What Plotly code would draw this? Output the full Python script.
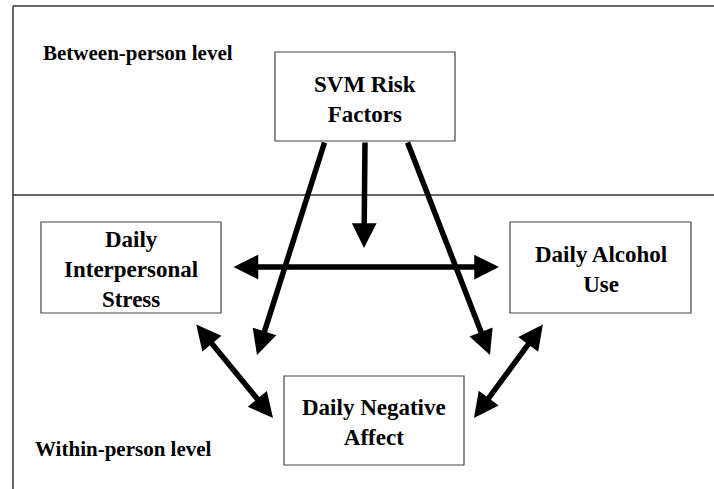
"""
SVM risk factors / daily process model diagram (plotly)
"""
import plotly.graph_objects as go

W, H = 714, 489
FONT = "Liberation Serif, Times New Roman, serif"

# ── diagram content ─────────────────────────────────────────────
LEVEL_LABELS = ["Between-person level", "Within-person level"]
LEVEL_X = [41, 33]
LEVEL_Y = [53, 449]

NODE_LABELS = [
    "SVM Risk<br>Factors",
    "Daily<br>Interpersonal<br>Stress",
    "Daily Alcohol<br>Use",
    "Daily Negative<br>Affect",
]
# box edges: x0, x1, y0, y1
NODE_X0 = [275, 41, 510, 284]
NODE_X1 = [455, 221, 691, 464]
NODE_Y0 = [52, 222, 222, 376]
NODE_Y1 = [141, 313, 313, 465]
NODE_TEXT_Y = [99, 269, 269, 422]

# arrows: tail -> head, double = arrowhead on both ends
ARROW_TAIL_X = [325, 365, 407, 232, 195, 544]
ARROW_TAIL_Y = [141, 141, 141, 267, 323, 323]
ARROW_HEAD_X = [257, 364, 490, 499, 273, 474]
ARROW_HEAD_Y = [355, 248, 355, 267, 418, 418]
ARROW_DOUBLE = [False, False, False, True, True, True]

# frame lines: top, left, divider
FRAME_X0 = [13, 13, 13]
FRAME_X1 = [714, 13, 714]
FRAME_Y0 = [6, 6, 195]
FRAME_Y1 = [6, 489, 195]


fig = go.Figure()

for x0, x1, y0, y1 in zip(FRAME_X0, FRAME_X1, FRAME_Y0, FRAME_Y1):
    fig.add_shape(type="line", x0=x0, x1=x1, y0=y0, y1=y1,
                  xref="x", yref="y",
                  line=dict(color="#333333", width=1.5))

for lab, x0, x1, y0, y1, ty in zip(NODE_LABELS, NODE_X0, NODE_X1,
                                   NODE_Y0, NODE_Y1, NODE_TEXT_Y):
    fig.add_shape(type="rect", x0=x0, x1=x1, y0=y0, y1=y1,
                  xref="x", yref="y", fillcolor="white",
                  line=dict(color="#444444", width=1.2))
    fig.add_annotation(x=(x0 + x1) / 2, y=ty, text=lab, showarrow=False,
                       xanchor="center", yanchor="middle", align="center",
                       font=dict(family=FONT, size=23, color="#000000",
                                 weight="bold"))

for lab, x, y in zip(LEVEL_LABELS, LEVEL_X, LEVEL_Y):
    fig.add_annotation(x=x, y=y, text=lab, showarrow=False,
                       xanchor="left", yanchor="middle",
                       font=dict(family=FONT, size=21, color="#000000",
                                 weight="bold"))

for tx, ty, hx, hy, dbl in zip(ARROW_TAIL_X, ARROW_TAIL_Y, ARROW_HEAD_X,
                               ARROW_HEAD_Y, ARROW_DOUBLE):
    fig.add_annotation(
        x=hx, y=hy, ax=tx, ay=ty, xref="x", yref="y", axref="x", ayref="y",
        text="", showarrow=True,
        arrowhead=2, arrowsize=0.9, arrowwidth=5.5, arrowcolor="black",
        arrowside="end+start" if dbl else "end",
        startarrowhead=2, startarrowsize=0.9,
        standoff=0, startstandoff=0,
    )

fig.update_xaxes(range=[0, W], visible=False, fixedrange=True)
fig.update_yaxes(range=[H, 0], visible=False, fixedrange=True)
fig.update_layout(
    width=W, height=H, margin=dict(l=0, r=0, t=0, b=0),
    paper_bgcolor="white", plot_bgcolor="white", showlegend=False,
)

# page body has an 8px default margin; drop it so the figure sits at 0,0
fig.write_html("out.html", config={"displayModeBar": False},
               post_script="document.body.style.margin='0';"
                           "document.body.style.overflow='hidden';")
